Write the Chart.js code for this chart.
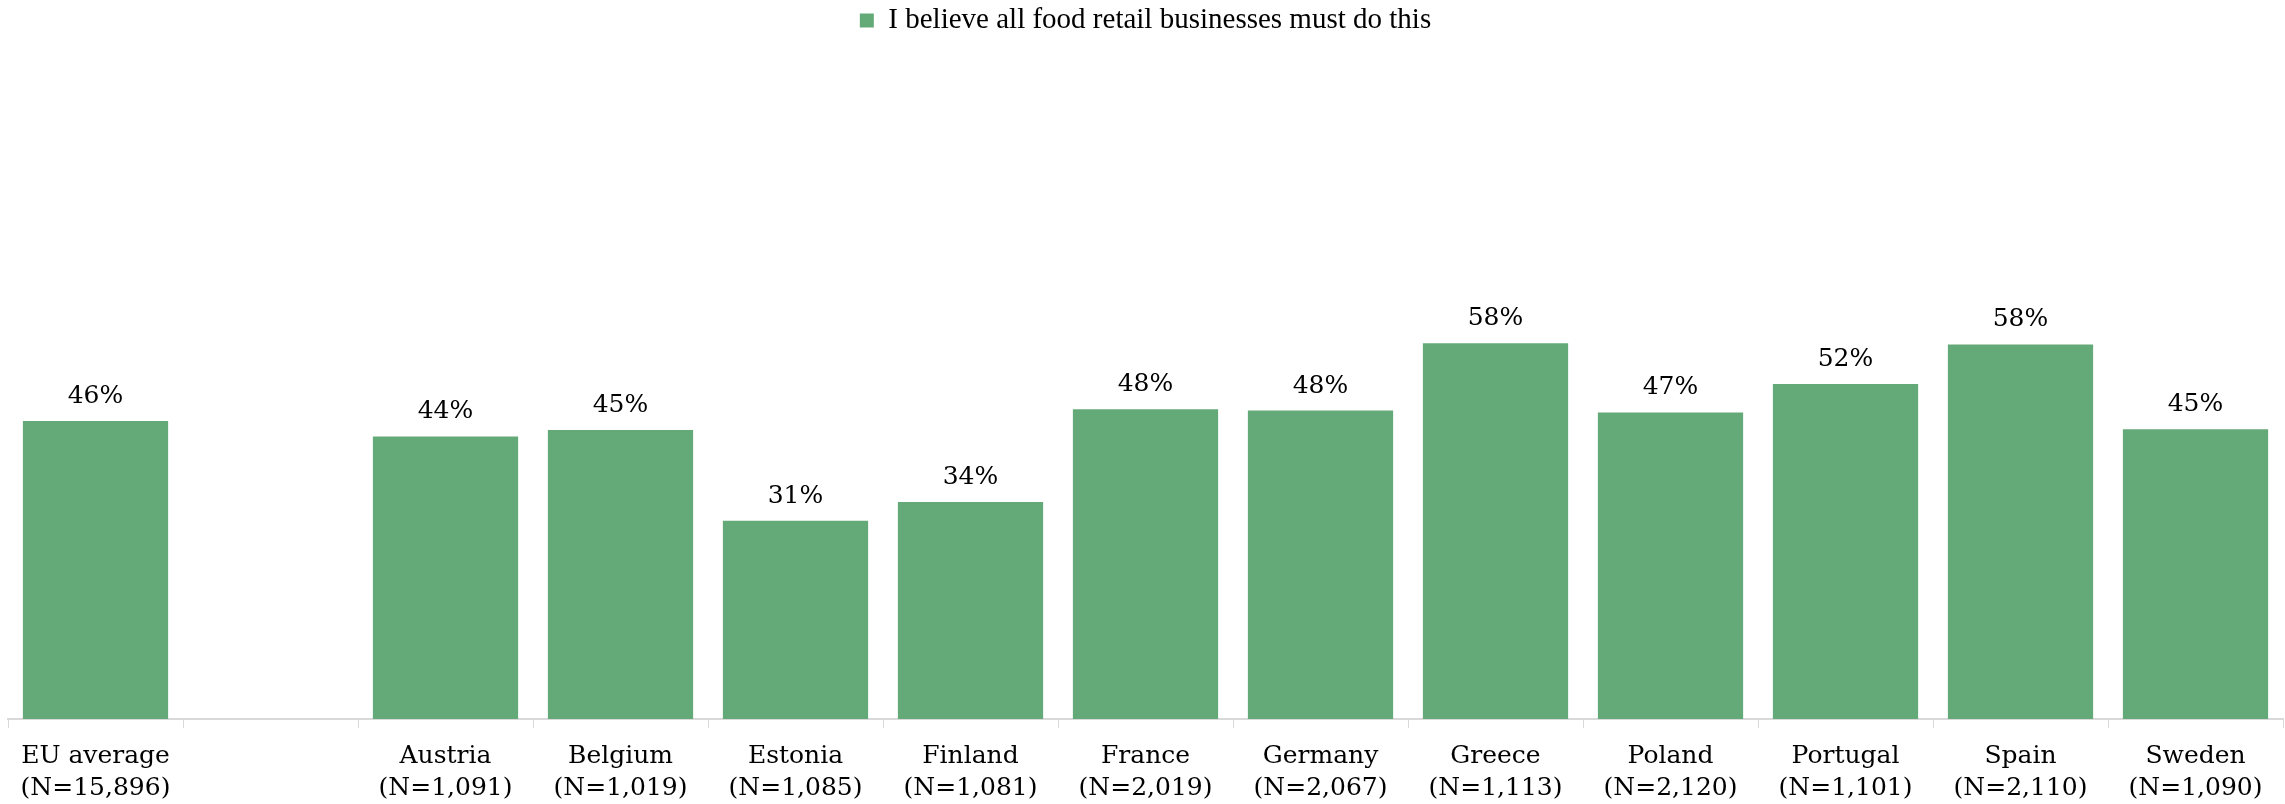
<!DOCTYPE html>
<html>
<head>
<meta charset="utf-8">
<script src="https://cdn.jsdelivr.net/npm/chart.js@4.4.1/dist/chart.umd.min.js"></script>
<style>
    html, body { margin: 0; padding: 0; background: #ffffff; }
    #wrap { width: 2285px; height: 804px; }
</style>
</head>
<body>
<div id="wrap"><canvas id="retail-chart"></canvas></div>
<script>
const countries = ['EU average', '', 'Austria', 'Belgium', 'Estonia', 'Finland', 'France', 'Germany', 'Greece', 'Poland', 'Portugal', 'Spain', 'Sweden'];
const sampleSizes = ['(N=15,896)', '', '(N=1,091)', '(N=1,019)', '(N=1,085)', '(N=1,081)', '(N=2,019)', '(N=2,067)', '(N=1,113)', '(N=2,120)', '(N=1,101)', '(N=2,110)', '(N=1,090)'];
const mustDo = [46, null, 43.6, 44.6, 30.6, 33.5, 47.8, 47.6, 58.0, 47.3, 51.7, 57.8, 44.7];
const seriesLabel = 'I believe all food retail businesses must do this';

const barGreen = '#64aa79';

// labels above each bar
const valueLabels = {
    id: 'valueLabels',
    afterDatasetsDraw(chart) {
        const ctx = chart.ctx;
        const meta = chart.getDatasetMeta(0);
        ctx.save();
        ctx.font = '25px "DejaVu Serif", serif';
        ctx.fillStyle = '#000000';
        ctx.textAlign = 'center';
        ctx.textBaseline = 'alphabetic';
        meta.data.forEach((bar, i) => {
            if (mustDo[i] == null) return;
            ctx.fillText(Math.round(mustDo[i]) + '%', bar.x, bar.y - 18);
        });
        ctx.restore();
    }
};

// the plot starts well below the legend in the original
const legendHeight = {
    id: 'legendHeight',
    beforeLayout(chart) {
        const legend = chart.legend;
        if (legend && !legend._tweaked) {
            const fit = legend.fit;
            legend.fit = function () {
                fit.call(this);
                this.height = 71;
            };
            legend._tweaked = true;
        }
    }
};

const ctx = document.getElementById('retail-chart');
new Chart(ctx, {
    type: 'bar',
    data: {
        labels: countries.map((c, i) => [c, sampleSizes[i]]),
        datasets: [
            {
                label: seriesLabel,
                data: mustDo,
                backgroundColor: barGreen,
                borderWidth: 0,
                barPercentage: 0.83,
                categoryPercentage: 1.0
            }
        ]
    },
    options: {
        responsive: true,
        maintainAspectRatio: false,
        animation: false,
        layout: { padding: { left: 8, right: 2, top: 0, bottom: 0 } },
        plugins: {
            legend: {
                position: 'top',
                labels: {
                    boxWidth: 14,
                    boxHeight: 14,
                    padding: 6,
                    color: '#000000',
                    font: { family: '"Liberation Serif", serif', size: 29 }
                }
            },
            tooltip: { enabled: false }
        },
        scales: {
            x: {
                afterFit(scale) {
                    scale.height = 85;
                },
                grid: {
                    offset: true,
                    drawOnChartArea: false,
                    drawTicks: true,
                    tickLength: 9,
                    color: '#d9d9d9'
                },
                border: { color: '#d9d9d9', width: 2 },
                ticks: {
                    color: '#000000',
                    padding: 12,
                    maxRotation: 0,
                    autoSkip: false,
                    font: { family: '"DejaVu Serif", serif', size: 25, lineHeight: 1.3 }
                }
            },
            y: {
                display: false,
                min: 0,
                max: 100
            }
        }
    },
    plugins: [valueLabels, legendHeight]
});
</script>
</body>
</html>
